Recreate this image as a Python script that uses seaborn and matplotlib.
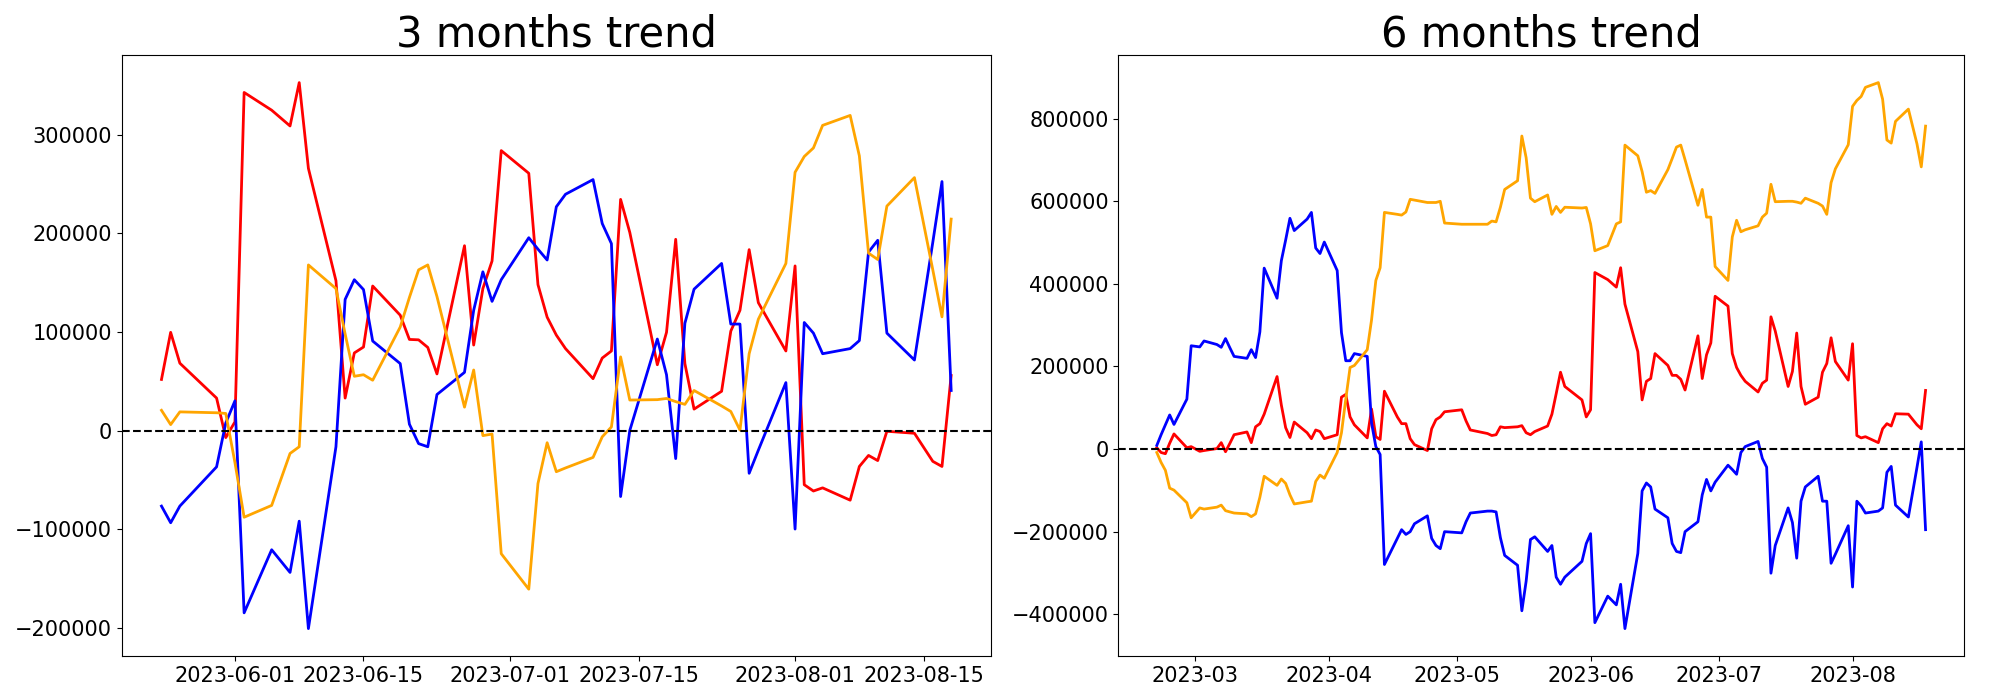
import seaborn as sns
import matplotlib
matplotlib.use("Agg")
import matplotlib.pyplot as plt
import pandas as pd

# Korean market closing days inside the window
holidays = ["2023-03-01", "2023-05-01", "2023-05-05", "2023-05-29",
            "2023-06-06", "2023-08-15"]

dates_3m = pd.bdate_range("2023-05-24", "2023-08-18", freq="C", holidays=holidays)
dates_6m = pd.bdate_range("2023-02-20", "2023-08-18", freq="C", holidays=holidays)

# 3 months trend
red_3m = [
    51800, 99600, 68300, 32900, -7200,
    8800, 343000, 325000, 309000, 353000, 266000, 152000, 32900, 78700, 84700,
    146600, 117000, 92400, 92000, 84300, 57400, 187500, 86700, 144000, 172000, 284000,
    261000, 148000, 115000, 96800, 83100, 52600, 73500, 80700, 234500, 201000,
    66700, 99600, 194000, 67900, 21700, 39800, 100800, 122000, 183500, 129700, 80700,
    167000, -55000, -61400, -58200, -70700, -36500, -25300, -30500, -800, -2800,
    -31300, -36500, 55800,
]
blue_3m = [
    -76700, -93600, -76700, -36900, 7600,
    30100, -185000, -121000, -144000, -92000, -201000, -16500, 133000, 153000, 143000,
    90800, 67900, 6400, -13300, -16500, 36500, 59000, 122000, 161000, 131000, 153000,
    195600, 184000, 173000, 227000, 239700, 254600, 210000, 189600, -67000, 0,
    92800, 56600, -28500, 108800, 143400, 169500, 108000, 108000, -43400, -20000, 48600,
    -100000, 109600, 98800, 77900, 83100, 91200, 181000, 193000, 98800, 71500,
    191000, 252600, 40600,
]
orange_3m = [
    20500, 6000, 18900, 18000, 17300,
    -32500, -88000, -76000, -23300, -16500, 168000, 144000, 98000, 55000, 56600,
    51000, 105000, 135000, 163000, 168000, 136000, 23700, 61400, -5200, -3600, -125000,
    -161000, -53800, -12400, -41800, -38000, -27300, -6400, 3600, 74700, 30900,
    31300, 32500, 29300, 26500, 40600, 24900, 19300, 400, 77900, 112900, 169500,
    262000, 278000, 286700, 309600, 319700, 278700, 180000, 173500, 227700, 256600,
    163000, 115300, 214500,
]

# 6 months trend
red_6m = [
    2900, -8600, -11500, 14000, 36400, 2900, 5700,
    -5700, -3800, 1000, 15300, -6700, 13400, 34500, 41200, 15300, 53700, 61300,
    84300, 175400, 106300, 51700, 27800, 65200, 39300, 24900, 46000, 42200, 24900,
    34500, 125500, 132200, 77600, 58500, 26800, 96800, 29700, 23000, 139900,
    77600, 61300, 61300, 24900, 10500, -3800, 48900, 70900, 77600, 90100,
    94900, 68000, 46000, 37400, 32600, 34500, 53700, 51700, 53700, 56500,
    39300, 34500, 42200, 55600, 84300, 134200, 185900, 151400, 118800, 77600,
    94900, 427400, 410200, 392000, 439000, 350800, 235800, 118800, 163900, 170600,
    231000, 202300, 178300, 178300, 168700, 142800, 274100, 170600, 228100, 256800, 369900,
    346000, 231000, 197400, 178300, 163900, 138000, 159100, 166700, 320100, 285600,
    151400, 187800, 280800, 151400, 108300, 125500, 185900, 207000, 269300, 211800, 166700,
    254900, 32600, 26800, 29700, 15300, 48900, 61300, 55600, 85300, 84300,
    58500, 48900, 141800,
]
blue_6m = [
    8600, 34500, 58500, 82400, 59400, 120700, 250000,
    247200, 261600, 253000, 246300, 267400, 245300, 224200, 219500, 240500, 221400, 283700,
    438000, 365100, 456000, 506000, 558700, 529000, 556800, 573000, 486800, 473400, 501200,
    432200, 281700, 213700, 213700, 231000, 224200, 63200, 5700, -13400, -279800,
    -216600, -195500, -207000, -200300, -181100, -162000, -216600, -233800, -241500, -200300,
    -203200, -176300, -155200, -150500, -150500, -152400, -214700, -257800, -281700, -391900,
    -320100, -219400, -212700, -248200, -233800, -310500, -327700, -310500, -272200, -229000,
    -205100, -420700, -356500, -377600, -327700, -435100, -253000, -101600, -82400, -92000,
    -145600, -166700, -229000, -248200, -251100, -200300, -176300, -111200, -73800, -101600, -80500,
    -39300, -49800, -61300, -8600, 5700, 18200, -23000, -44100, -300900, -233800,
    -142800, -178200, -264500, -126500, -92000, -66100, -126500, -126500, -276900, -254900, -185900,
    -334400, -126500, -138000, -155200, -150500, -142800, -56500, -42200, -136000, -164800,
    -44700, 17200, -195500,
]
orange_6m = [
    -8600, -32600, -51700, -94900, -99700, -130300, -166700,
    -142800, -145600, -140900, -136000, -149500, -152400, -155200, -157200, -163900, -157200, -116900,
    -66100, -88100, -72800, -83400, -111200, -133200, -128000, -126500, -78600, -63200, -70900,
    -8600, 39300, 120700, 197400, 202200, 240500, 312400, 408200, 438900, 573000,
    568300, 566400, 574000, 604700, 602800, 597000, 597000, 597000, 599900, 547200,
    544300, 544300, 544300, 544300, 552000, 550100, 585500, 628600, 649700, 758000,
    705300, 607500, 598900, 615200, 568300, 587400, 573000, 585500, 583600, 585000,
    545300, 480100, 492600, 545300, 550100, 736000, 710100, 671800, 621900, 625800,
    619100, 676600, 703400, 731200, 736000, 700500, 590300, 628600, 561600, 561600, 441800,
    408200, 513600, 553900, 526100, 530900, 540500, 561600, 571100, 641100, 598900,
    599900, 599900, 598000, 595100, 607500, 595000, 588400, 568300, 645000, 678500, 736900,
    829900, 844200, 853800, 875900, 887400, 847100, 748400, 740800, 793500, 823200,
    738900, 683300, 782000,
]

df_3m = pd.DataFrame({"date": dates_3m, "red": red_3m, "blue": blue_3m, "orange": orange_3m})
df_6m = pd.DataFrame({"date": dates_6m, "red": red_6m, "blue": blue_6m, "orange": orange_6m})

fig, axes = plt.subplots(1, 2, figsize=(20, 7), dpi=100,
                         gridspec_kw={"width_ratios": [868, 845]})
plt.subplots_adjust(left=0.061, right=0.982, bottom=0.063, top=0.921, wspace=0.149)

panels = [(axes[0], df_3m, "3 months trend"), (axes[1], df_6m, "6 months trend")]
for ax, df, title in panels:
    for col in ["red", "blue", "orange"]:
        sns.lineplot(data=df, x="date", y=col, color=col, linewidth=2,
                     estimator=None, ax=ax, legend=False)
    ax.axhline(0, color="black", linestyle="--", linewidth=1.5)
    ax.set_title(title, fontsize=30)
    ax.set_xlabel("")
    ax.set_ylabel("")
    ax.tick_params(labelsize=15)

plt.savefig("out.png")
